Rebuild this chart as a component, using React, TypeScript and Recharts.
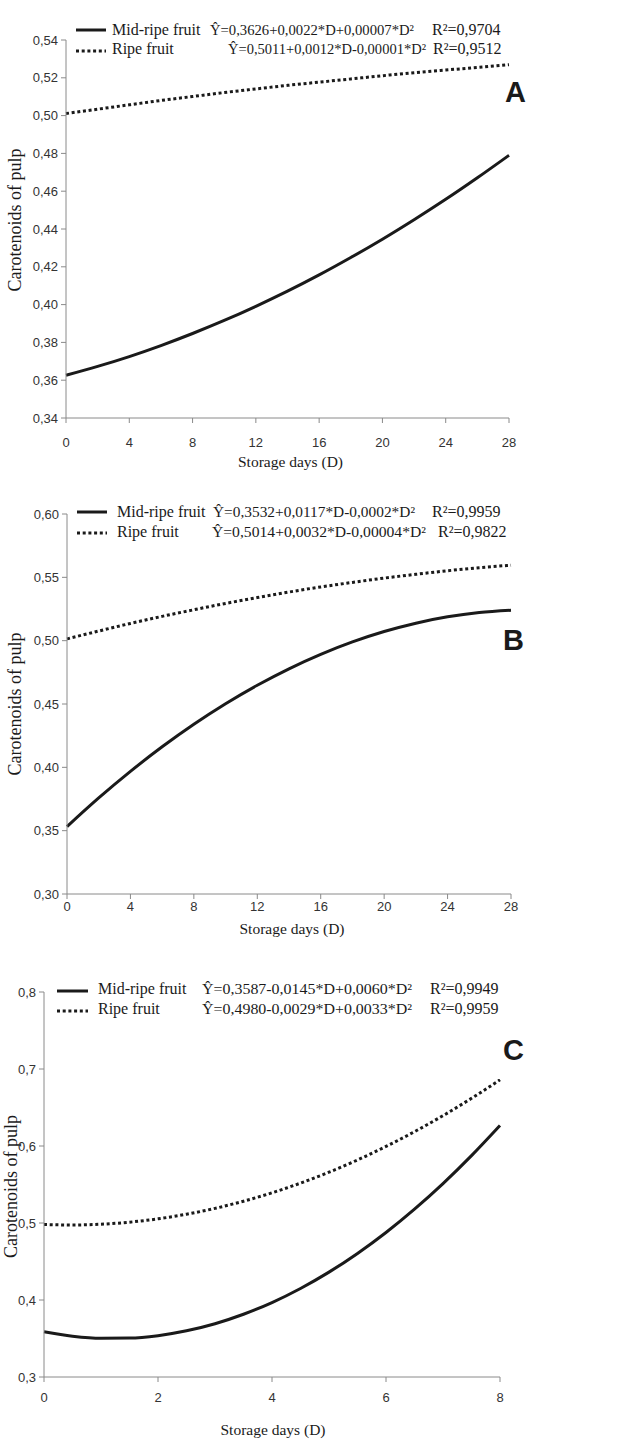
import React from 'react';
import { LineChart, Line, XAxis, YAxis } from 'recharts';

// storage days sampled from the curves
const daysAB = [0, 2, 4, 6, 8, 10, 12, 14, 16, 18, 20, 22, 24, 26, 28];
const daysC = [0, 0.5, 1, 1.5, 2, 2.5, 3, 3.5, 4, 4.5, 5, 5.5, 6, 6.5, 7, 7.5, 8];

// panel A
const midA = [0.3626, 0.3673, 0.3725, 0.3783, 0.3847, 0.3916, 0.3991, 0.4071, 0.4157, 0.4249, 0.4346, 0.4449, 0.4557, 0.4671, 0.4790];
const ripeA = [0.5011, 0.5034, 0.5057, 0.5080, 0.5101, 0.5122, 0.5141, 0.5160, 0.5177, 0.5194, 0.5211, 0.5227, 0.5241, 0.5255, 0.5269];
// panel B
const midB = [0.3532, 0.3758, 0.3968, 0.4162, 0.4340, 0.4502, 0.4648, 0.4778, 0.4892, 0.4990, 0.5072, 0.5138, 0.5188, 0.5222, 0.5240];
const ripeB = [0.5014, 0.5076, 0.5136, 0.5192, 0.5244, 0.5294, 0.5340, 0.5384, 0.5424, 0.5460, 0.5494, 0.5524, 0.5552, 0.5576, 0.5596];
// panel C
const midC = [0.3587, 0.3530, 0.3502, 0.3505, 0.3537, 0.3600, 0.3692, 0.3815, 0.3967, 0.4150, 0.4362, 0.4605, 0.4877, 0.5180, 0.5512, 0.5875, 0.6267];
const ripeC = [0.4980, 0.4974, 0.4984, 0.5011, 0.5054, 0.5114, 0.5190, 0.5283, 0.5392, 0.5518, 0.5660, 0.5819, 0.5994, 0.6186, 0.6394, 0.6619, 0.6860];

const xTicksAB = [0, 4, 8, 12, 16, 20, 24, 28];
const xTicksC = [0, 2, 4, 6, 8];
const yTicksA = [0.34, 0.36, 0.38, 0.40, 0.42, 0.44, 0.46, 0.48, 0.50, 0.52, 0.54];
const yTicksB = [0.30, 0.35, 0.40, 0.45, 0.50, 0.55, 0.60];
const yTicksC = [0.3, 0.4, 0.5, 0.6, 0.7, 0.8];

const eqA = ['Ŷ=0,3626+0,0022*D+0,00007*D²', 'Ŷ=0,5011+0,0012*D-0,00001*D²'];
const r2A = ['R²=0,9704', 'R²=0,9512'];
const eqB = ['Ŷ=0,3532+0,0117*D-0,0002*D²', 'Ŷ=0,5014+0,0032*D-0,00004*D²'];
const r2B = ['R²=0,9959', 'R²=0,9822'];
const eqC = ['Ŷ=0,3587-0,0145*D+0,0060*D²', 'Ŷ=0,4980-0,0029*D+0,0033*D²'];
const r2C = ['R²=0,9949', 'R²=0,9959'];

const serif = '"Liberation Serif", "Times New Roman", serif';
const sans = '"Liberation Sans", Arial, sans-serif';
const ink = '#1a1a1a';
const axisGray = '#8a8a8a';
const dotted = '3 2.7';

const W = 617;

const panels = [
  {
    letter: 'A', top: 0, height: 480, days: daysAB, mid: midA, ripe: ripeA,
    xTicks: xTicksAB, yTicks: yTicksA, dec: 2, eq: eqA, r2: r2A,
    margin: { top: 40, right: 108, left: 0, bottom: 0 }, yW: 66, xH: 62, xTickMargin: 15,
    xLabelDy: 49, xLabelDx: 3, yLabelX: 21, yLabelDy: -9,
    rows: [35, 54], lineRows: [30, 51], sample: [76, 106], labelX: 112,
    eqX: [210, 228], eqLen: [204, 198], r2X: [432, 433],
    letterX: 505, letterY: 102,
  },
  {
    letter: 'B', top: 480, height: 480, days: daysAB, mid: midB, ripe: ripeB,
    xTicks: xTicksAB, yTicks: yTicksB, dec: 2, eq: eqB, r2: r2B,
    margin: { top: 34, right: 106, left: 0, bottom: 0 }, yW: 67, xH: 66, xTickMargin: 3,
    xLabelDy: 40, xLabelDx: 3, yLabelX: 21, yLabelDy: 0,
    rows: [37, 57], lineRows: [32, 53], sample: [77, 107], labelX: 117,
    eqX: [213, 212], eqLen: [202, 214], r2X: [432, 438],
    letterX: 503, letterY: 170,
  },
  {
    letter: 'C', top: 960, height: 479, days: daysC, mid: midC, ripe: ripeC,
    xTicks: xTicksC, yTicks: yTicksC, dec: 1, eq: eqC, r2: r2C,
    margin: { top: 32, right: 117, left: 0, bottom: 0 }, yW: 44, xH: 62, xTickMargin: 11,
    xLabelDy: 58, xLabelDx: 1, yLabelX: 17, yLabelDy: 2,
    rows: [34, 54], lineRows: [31, 51], sample: [57, 88], labelX: 98,
    eqX: [202, 202], eqLen: [210, 210], r2X: [430, 430],
    letterX: 503, letterY: 100,
  },
];

function Panel({ p }: { p: any }) {
  const data = p.days.map((d: number, i: number) => ({ d, mid: p.mid[i], ripe: p.ripe[i] }));
  const fmt = (v: number) => v.toFixed(p.dec).replace('.', ',');
  const tick = { fill: '#333', fontSize: 13, fontFamily: sans };

  const xLabel = (props: any) => {
    const vb = props.viewBox;
    return (
      <text x={vb.x + vb.width / 2 + p.xLabelDx} y={vb.y + p.xLabelDy} textAnchor="middle"
        fontFamily={serif} fontSize={15.5} fill={ink}>Storage days (D)</text>
    );
  };
  const yLabel = (props: any) => {
    const vb = props.viewBox;
    const cy = vb.y + vb.height / 2 + p.yLabelDy;
    return (
      <text x={p.yLabelX} y={cy} textAnchor="middle" transform={`rotate(-90, ${p.yLabelX}, ${cy})`}
        fontFamily={serif} fontSize={18} fill={ink}>Carotenoids of pulp</text>
    );
  };

  const names = ['Mid-ripe fruit', 'Ripe fruit'];

  return (
    <div style={{ position: 'absolute', left: 0, top: p.top, width: W, height: p.height }}>
      <LineChart width={W} height={p.height} data={data} margin={p.margin}>
        <XAxis dataKey="d" type="number" domain={[p.xTicks[0], p.xTicks[p.xTicks.length - 1]]}
          ticks={p.xTicks} interval={0} height={p.xH} tick={tick} tickSize={5} tickMargin={p.xTickMargin}
          axisLine={{ stroke: axisGray }} tickLine={{ stroke: axisGray }} label={xLabel} />
        <YAxis type="number" domain={[p.yTicks[0], p.yTicks[p.yTicks.length - 1]]} ticks={p.yTicks}
          interval={0} width={p.yW} tick={tick} tickSize={5} tickMargin={3} tickFormatter={fmt}
          axisLine={{ stroke: axisGray }} tickLine={{ stroke: axisGray }} label={yLabel} />
        <Line type="monotone" dataKey="ripe" stroke={ink} strokeWidth={3} strokeDasharray={dotted}
          dot={false} isAnimationActive={false} />
        <Line type="monotone" dataKey="mid" stroke={ink} strokeWidth={3} dot={false} isAnimationActive={false} />
      </LineChart>
      <svg width={W} height={p.height} style={{ position: 'absolute', left: 0, top: 0, pointerEvents: 'none' }}>
        {[0, 1].map(i => (
          <g key={i} fontFamily={serif} fontSize={16} fill={ink}>
            <line x1={p.sample[0]} x2={p.sample[1]} y1={p.lineRows[i]} y2={p.lineRows[i]} stroke={ink}
              strokeWidth={3} strokeDasharray={i === 1 ? dotted : undefined} />
            <text x={p.labelX} y={p.rows[i]}>{names[i]}</text>
            <text x={p.eqX[i]} y={p.rows[i]} fontSize={15} textLength={p.eqLen[i]}
              lengthAdjust="spacingAndGlyphs">{p.eq[i]}</text>
            <text x={p.r2X[i]} y={p.rows[i]}>{p.r2[i]}</text>
          </g>
        ))}
        <text x={p.letterX} y={p.letterY} fontFamily={sans} fontWeight="bold" fontSize={29} fill={ink}>{p.letter}</text>
      </svg>
    </div>
  );
}

export default function App() {
  return (
    <div style={{ position: 'absolute', left: 0, top: 0, width: W, height: 1439, background: '#fff' }}>
      {panels.map(p => <Panel key={p.letter} p={p} />)}
    </div>
  );
}
